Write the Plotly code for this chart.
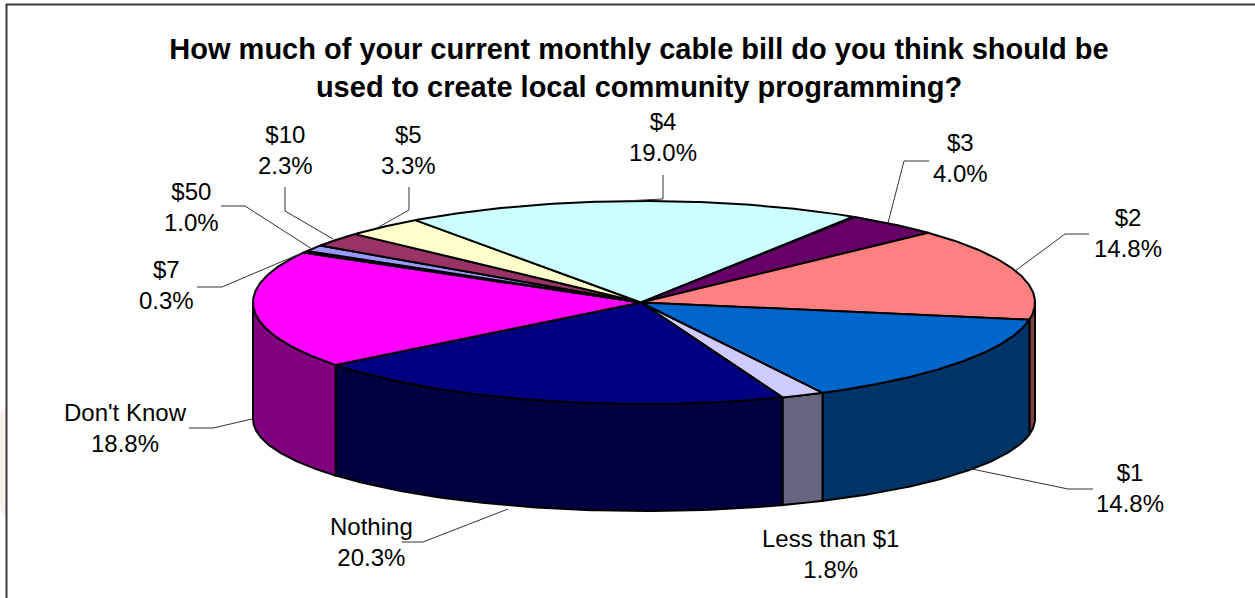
import numpy as np
import plotly.graph_objects as go

# ---- data (clockwise from the first slice) ----
categories = ["Less than $1", "Nothing", "Don't Know", "$7", "$50", "$10", "$5", "$4", "$3", "$2", "$1"]
values = [1.8, 20.3, 18.8, 0.3, 1.0, 2.3, 3.3, 19.0, 4.0, 14.8, 14.8]
top_colors = ["#CCCCFF", "#000080", "#FF00FF", "#808000", "#9999FF", "#993366", "#FFFFCC", "#CCFFFF", "#660066", "#FF8080", "#0066CC"]
wall_colors = ["#666680", "#000040", "#800080", "#404000", "#4C4C80", "#4C1933", "#808066", "#668080", "#330033", "#804040", "#003366"]

# ---- pie geometry ----
W, H = 1255, 598
CX, CY, A, B = 644.0, 302.5, 391.0, 101.5
APEX_X = 641.0
BOT_CY, BOT_B = 419.0, 92.0
START_DEG = 152.8
EDGE = "#000000"

def top_xy(t):
    r = np.radians(t)
    return CX + A * np.sin(r), CY - B * np.cos(r)

def bot_xy(t):
    r = np.radians(t)
    return CX + A * np.sin(r), BOT_CY - BOT_B * np.cos(r)

total = sum(values)
edges = START_DEG + np.concatenate([[0], np.cumsum(values)]) / total * 360.0

fig = go.Figure()

# faint background remnant on the far left, and the cropped frame
shapes = [
    dict(type="path", path="M0,412 L6,406 L6,516 L0,510 Z", fillcolor="#F6F1EA", line=dict(width=0), layer="below"),
    dict(type="line", x0=6.5, x1=6.5, y0=4, y1=598, line=dict(color="#3A3A3A", width=2)),
    dict(type="line", x0=6, x1=1255, y0=4.5, y1=4.5, line=dict(color="#3A3A3A", width=2)),
]

def add_poly(x, y, color, name):
    fig.add_trace(go.Scatter(x=x, y=y, mode="lines", fill="toself", fillcolor=color,
                             line=dict(color=EDGE, width=2), name=name,
                             hoverinfo="name", showlegend=False))

# side walls: the part of each slice's rim that faces the viewer (90..270 deg)
for i, name in enumerate(categories):
    for shift in (0, 360):
        a0 = max(edges[i] - shift, 90)
        a1 = min(edges[i + 1] - shift, 270)
        if a1 > a0:
            t = np.linspace(a0, a1, 80)
            tx, ty = top_xy(t)
            bx, by = bot_xy(t[::-1])
            add_poly(np.r_[tx, bx, tx[0]], np.r_[ty, by, ty[0]], wall_colors[i], name)

# top faces
for i, name in enumerate(categories):
    t = np.linspace(edges[i], edges[i + 1], 120)
    tx, ty = top_xy(t)
    add_poly(np.r_[APEX_X, tx, APEX_X], np.r_[CY, ty, CY], top_colors[i], name)

# label centres and leader lines
label_pos = {
    "$4": (663, 137), "$3": (960, 157.5), "$2": (1128, 233), "$1": (1130, 487.5),
    "Less than $1": (830, 553.5), "Nothing": (371, 541.5), "Don't Know": (125, 428),
    "$7": (166, 285), "$50": (191, 207), "$10": (285, 150), "$5": (408, 150),
}
leaders = {
    "$4": [(663, 175), (663, 199), (623, 201)],
    "$3": [(929, 161), (904, 161), (888, 223)],
    "$2": [(1089, 234), (1065, 234), (1015, 271)],
    "$1": [(1093, 489), (1068, 489), (967, 468)],
    "Nothing": [(402, 542), (423, 542), (508, 509)],
    "Don't Know": [(189, 428), (213, 428), (252, 419)],
    "$7": [(197, 287), (222, 287), (302, 253)],
    "$50": [(221, 206), (245, 206), (312, 249)],
    "$10": [(285, 187), (285, 211), (333, 239)],
    "$5": [(409, 187), (409, 210), (377, 228)],
}
for pts in leaders.values():
    path = "M" + " L".join(f"{x},{y}" for x, y in pts)
    shapes.append(dict(type="path", path=path, line=dict(color="#333333", width=1)))

annotations = []
for name, v in zip(categories, values):
    x, y = label_pos[name]
    annotations.append(dict(x=x, y=y, xref="x", yref="y", text=f"{name}<br>{v:.1f}%", showarrow=False,
                            xanchor="center", yanchor="middle", align="center",
                            font=dict(family="Liberation Sans", size=24, color="#000000")))

fig.update_layout(
    width=W, height=H, margin=dict(l=0, r=0, t=0, b=0),
    paper_bgcolor="#FFFFFF", plot_bgcolor="#FFFFFF", showlegend=False,
    title=dict(text="How much of your current monthly cable bill do you think should be<br>used to create local community programming?",
               x=639.0 / W, xanchor="center", y=1 - 59.0 / H, yanchor="middle",
               font=dict(family="Liberation Sans", size=29, color="#000000", weight="bold")),
    xaxis=dict(range=[0, W], visible=False, fixedrange=True),
    yaxis=dict(range=[H, 0], visible=False, fixedrange=True),
    shapes=shapes, annotations=annotations,
)
fig.write_html("out.html", config={"displayModeBar": False},
               post_script="document.body.style.margin='0';document.body.style.overflow='hidden';")
